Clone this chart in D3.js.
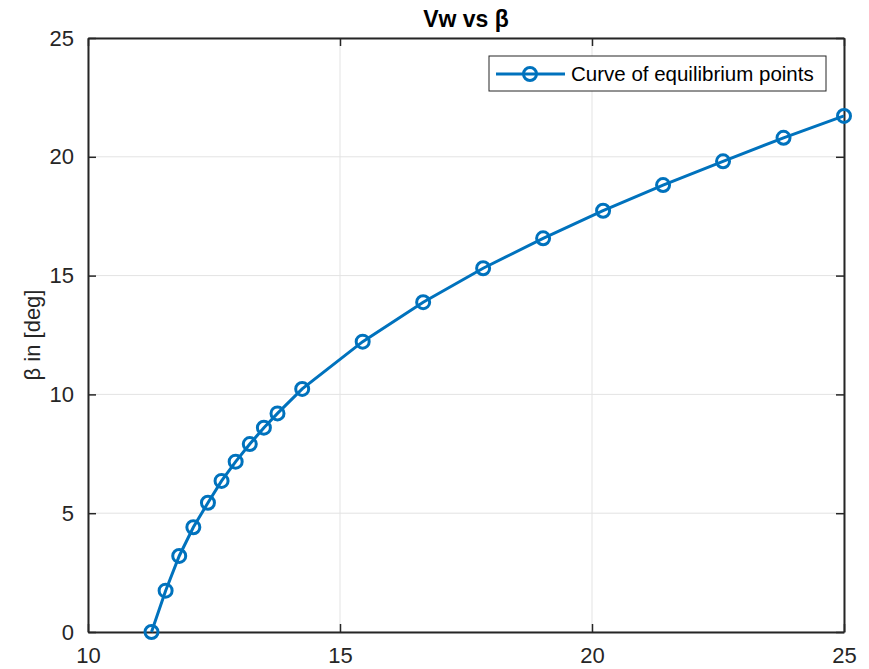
<!DOCTYPE html>
<html>
<head>
<meta charset="utf-8">
<script src="https://cdn.jsdelivr.net/npm/d3@7"></script>
<style>
  body { margin: 0; background: #fff; }
  text { font-family: "Liberation Sans", Arial, sans-serif; }
</style>
</head>
<body>
<div id="chart"></div>
<script>
// data
var vw = [11.26, 11.54, 11.81, 12.09, 12.38, 12.65, 12.93, 13.21, 13.49, 13.76,
          14.25, 15.45, 16.65, 17.84, 19.03, 20.22, 21.41, 22.60, 23.80, 25.0];
var beta = [0, 1.74, 3.20, 4.41, 5.44, 6.36, 7.17, 7.91, 8.60, 9.20,
            10.23, 12.22, 13.88, 15.31, 16.57, 17.73, 18.81, 19.81, 20.80, 21.72];
var xTicks = [10, 15, 20, 25];
var yTicks = [0, 5, 10, 15, 20, 25];
var titleText = "Vw vs β";
var yLabel = "β in [deg]";
var legendLabel = "Curve of equilibrium points";

var W = 869, H = 669;
var margin = {top: 38, right: 25, bottom: 37, left: 88},
    width = W - margin.left - margin.right,
    height = H - margin.top - margin.bottom;

var blue = "#0072BD", axisCol = "#262626";

var svg = d3.select("#chart").append("svg")
  .attr("width", W)
  .attr("height", H);

var g = svg.append("g")
  .attr("transform", "translate(" + margin.left + "," + margin.top + ")");

var x = d3.scaleLinear().domain([10, 25]).range([0, width]);
var y = d3.scaleLinear().domain([0, 25]).range([height, 0]);

// grid
g.append("g").selectAll("line.gx")
  .data(xTicks).enter().append("line")
    .attr("x1", function(d) { return x(d); })
    .attr("x2", function(d) { return x(d); })
    .attr("y1", 0).attr("y2", height)
    .attr("stroke", "#e3e3e3").attr("stroke-width", 1);
g.append("g").selectAll("line.gy")
  .data(yTicks).enter().append("line")
    .attr("y1", function(d) { return y(d); })
    .attr("y2", function(d) { return y(d); })
    .attr("x1", 0).attr("x2", width)
    .attr("stroke", "#e3e3e3").attr("stroke-width", 1);

// axes (ticks point inward, mirrored on top / right)
function styleAxis(sel) {
  sel.selectAll("path").attr("stroke", axisCol).attr("stroke-width", 2);
  sel.selectAll("line").attr("stroke", axisCol).attr("stroke-width", 1.5);
  sel.selectAll("text").attr("fill", axisCol).style("font-size", "22px");
}

var xAxis = g.append("g")
  .attr("transform", "translate(0," + height + ")")
  .call(d3.axisBottom(x).tickValues(xTicks).tickSizeInner(-8).tickSizeOuter(0).tickPadding(15));
styleAxis(xAxis);

var yAxis = g.append("g")
  .call(d3.axisLeft(y).tickValues(yTicks).tickSizeInner(-8).tickSizeOuter(0).tickPadding(14));
styleAxis(yAxis);

var xTop = g.append("g")
  .call(d3.axisTop(x).tickValues(xTicks).tickSizeInner(-8).tickSizeOuter(0).tickFormat(""));
styleAxis(xTop);

var yRight = g.append("g")
  .attr("transform", "translate(" + width + ",0)")
  .call(d3.axisRight(y).tickValues(yTicks).tickSizeInner(-8).tickSizeOuter(0).tickFormat(""));
styleAxis(yRight);

// line + markers
var pts = vw.map(function(v, i) { return [v, beta[i]]; });

g.append("path")
  .datum(pts)
  .attr("fill", "none")
  .attr("stroke", blue)
  .attr("stroke-width", 3)
  .attr("d", d3.line()
    .x(function(d) { return x(d[0]); })
    .y(function(d) { return y(d[1]); }));

g.selectAll("circle.pt")
  .data(pts).enter().append("circle")
    .attr("cx", function(d) { return x(d[0]); })
    .attr("cy", function(d) { return y(d[1]); })
    .attr("r", 6.5)
    .attr("fill", "none")
    .attr("stroke", blue)
    .attr("stroke-width", 3);

// title
svg.append("text")
  .attr("x", margin.left + width / 2)
  .attr("y", 27)
  .attr("text-anchor", "middle")
  .attr("fill", "#000")
  .style("font-size", "23px")
  .style("font-weight", "bold")
  .text(titleText);

// y label
svg.append("text")
  .attr("transform", "translate(40," + (margin.top + height / 2) + ") rotate(-90)")
  .attr("text-anchor", "middle")
  .attr("fill", axisCol)
  .style("font-size", "22px")
  .text(yLabel);

// legend
var leg = svg.append("g");
leg.append("rect")
  .attr("x", 489).attr("y", 56)
  .attr("width", 337).attr("height", 35)
  .attr("fill", "#fff")
  .attr("stroke", "#262626")
  .attr("stroke-width", 1);
leg.append("line")
  .attr("x1", 496).attr("x2", 565)
  .attr("y1", 74).attr("y2", 74)
  .attr("stroke", blue).attr("stroke-width", 3);
leg.append("circle")
  .attr("cx", 530).attr("cy", 74).attr("r", 6.5)
  .attr("fill", "none").attr("stroke", blue).attr("stroke-width", 3);
leg.append("text")
  .attr("x", 571).attr("y", 81)
  .attr("fill", "#000")
  .style("font-size", "20.5px")
  .text(legendLabel);
</script>
</body>
</html>
